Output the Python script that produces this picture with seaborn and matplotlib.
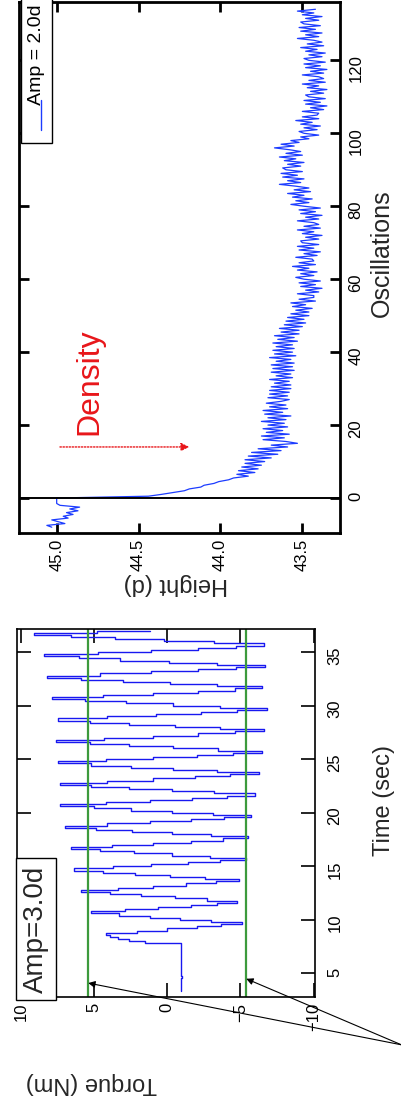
import numpy as np
import matplotlib
matplotlib.use('Agg')
import matplotlib.pyplot as plt
import seaborn as sns

sns.set_theme(style='white')
plt.rcParams['font.family'] = ['Liberation Sans', 'DejaVu Sans']
NARROW = ['Liberation Sans Narrow', 'Liberation Sans', 'DejaVu Sans']

# ---- right panel (drawn on top): height vs oscillations, sampled every half oscillation
OSC_START = -8.0
OSC_STEP = 0.5
height_before = [45.03, 45.06, 44.95, 44.99, 45.03, 44.93, 44.96, 44.90,
                 44.94, 44.87, 44.92, 44.86, 44.98, 45.00, 45.00, 45.00]
height_settle = [
    45.00,
    44.44, 44.36, 44.29, 44.22, 44.19, 44.12, 44.10, 44.04, 44.01, 43.95,
    43.92, 43.83, 43.90, 43.79, 43.89, 43.77, 43.87, 43.75, 43.85, 43.73,
    43.85, 43.69, 43.83, 43.65, 43.81, 43.63, 43.77, 43.59, 43.69, 43.53,
    43.60, 43.74, 43.61, 43.75, 43.58, 43.72, 43.62, 43.74, 43.59, 43.71,
    43.61, 43.75, 43.60, 43.71, 43.57, 43.73, 43.62, 43.74, 43.59, 43.70,
    43.60, 43.72, 43.63, 43.58, 43.71, 43.59, 43.70, 43.58, 43.70, 43.57,
    43.69, 43.57, 43.67, 43.58, 43.70, 43.56, 43.66, 43.57, 43.69, 43.55,
    43.68, 43.56, 43.69, 43.55, 43.66, 43.57, 43.70, 43.54, 43.67, 43.56,
    43.68, 43.55, 43.66, 43.56, 43.68, 43.53, 43.65, 43.55, 43.67, 43.52,
    43.63, 43.52, 43.64, 43.50, 43.61, 43.48, 43.60, 43.49, 43.59, 43.46,
]
height_late = [
    43.57, 43.46, 43.54, 43.44, 43.56, 43.48, 43.57, 43.42, 43.52, 43.43,
    43.43, 43.53, 43.40, 43.48, 43.38, 43.51, 43.42, 43.52, 43.39, 43.49,
    43.54, 43.43, 43.51, 43.41, 43.53, 43.46, 43.56, 43.42, 43.52, 43.43,
    43.44, 43.54, 43.41, 43.49, 43.39, 43.52, 43.43, 43.53, 43.40, 43.50,
    43.51, 43.40, 43.48, 43.38, 43.50, 43.43, 43.53, 43.39, 43.49, 43.40,
    43.43, 43.53, 43.40, 43.48, 43.38, 43.51, 43.42, 43.52, 43.39, 43.49,
    43.57, 43.46, 43.54, 43.44, 43.56, 43.49, 43.59, 43.45, 43.55, 43.46,
    43.54, 43.64, 43.51, 43.59, 43.49, 43.62, 43.53, 43.63, 43.50, 43.60,
    43.62, 43.51, 43.59, 43.49, 43.61, 43.54, 43.64, 43.50, 43.60, 43.51,
    43.58, 43.67, 43.55, 43.63, 43.52, 43.57, 43.46, 43.51, 43.40, 43.49,
    43.52, 43.41, 43.49, 43.39, 43.51, 43.44, 43.54, 43.40, 43.50, 43.41,
    43.40, 43.50, 43.37, 43.45, 43.35, 43.48, 43.39, 43.49, 43.36, 43.46,
    43.48, 43.37, 43.45, 43.35, 43.47, 43.40, 43.50, 43.36, 43.46, 43.37,
    43.40, 43.50, 43.37, 43.45, 43.35, 43.48, 43.39, 43.49, 43.36, 43.46,
    43.49, 43.38, 43.46, 43.36, 43.48, 43.41, 43.51, 43.37, 43.47, 43.38,
    43.43, 43.53, 43.40, 43.48, 43.38, 43.51, 43.42, 43.52, 43.39, 43.49,
    43.51, 43.40, 43.48, 43.38, 43.50, 43.43, 43.53, 43.42,
]
height_ticks = [45.0, 44.5, 44.0, 43.5]
osc_ticks = [0, 20, 40, 60, 80, 100, 120]

# ---- left panel (drawn at the bottom): torque vs time, sample-and-hold every 0.2 s
T_START = 3.4
SAMPLE_DT = 0.2
torque_rest = [-0.95, -0.92, -0.97, -0.93, -0.96, -0.94, -0.98, -0.93, -0.95, -0.97, -0.92,
               -0.96, -0.94, -0.97, -0.93, -0.95, -0.96, -0.92, -0.95, -0.97, -0.94, -0.95]
torque_start = [1.5, 2.6, 3.4, 3.9]
torque_cycles = [
    4.2, 2.1, 0.0, -2.0, -3.7, -5.1, -3.0, -0.9, 1.2, 3.3,
    5.2, 2.9, 0.6, -1.6, -3.4, -4.8, -2.7, -0.5, 1.8, 3.9,
    5.9, 3.4, 1.0, -1.3, -3.3, -4.9, -2.6, -0.2, 2.2, 4.4,
    6.4, 3.7, 1.1, -1.4, -3.6, -5.4, -2.9, -0.3, 2.3, 4.6,
    6.6, 3.8, 1.0, -1.6, -3.8, -5.5, -3.0, -0.3, 2.4, 4.9,
    7.0, 4.1, 1.2, -1.6, -3.9, -5.75, -3.1, -0.3, 2.5, 5.0,
    7.3, 4.2, 1.2, -1.7, -4.1, -6.0, -3.2, -0.3, 2.6, 5.2,
    7.3, 4.1, 1.0, -1.9, -4.3, -6.3, -3.4, -0.4, 2.5, 5.2,
    7.5, 4.2, 1.0, -2.0, -4.5, -6.5, -3.5, -0.4, 2.6, 5.3,
    7.6, 4.3, 1.0, -2.1, -4.6, -6.6, -3.6, -0.5, 2.6, 5.3,
    7.5, 4.1, 0.8, -2.3, -4.8, -6.8, -3.6, -0.4, 2.8, 5.6,
    7.9, 4.4, 1.0, -2.1, -4.6, -6.5, -3.4, -0.2, 3.0, 5.9,
    8.2, 4.6, 1.1, -2.1, -4.7, -6.7, -3.4, -0.1, 3.2, 6.0,
    8.4, 4.7, 1.1, -2.1, -4.7, -6.6, -3.2, 0.2, 3.6, 6.6,
    9.1, 4.8, 1.2,
]
limit_levels = [5.4, -5.4]
arrow_targets_time = [4.1, 4.5]
torque_ticks = [10, 5, 0, -5, -10]
time_ticks = [5, 10, 15, 20, 25, 30, 35]

HEIGHT_BLUE = '#1c3cff'
TORQUE_BLUE = '#1818f0'
GREEN = '#3c9a3c'


def style_box(ax, lw, tick_len, tick_w, size, family):
    for s in ax.spines.values():
        s.set_visible(True)
        s.set_color('black')
        s.set_linewidth(lw)
    ax.tick_params(axis='both', direction='in', length=tick_len, width=tick_w,
                   top=True, bottom=True, left=True, right=True,
                   labelleft=False, labelright=True, labelbottom=True,
                   labelsize=size, colors='black')
    ax.tick_params(axis='x', labelrotation=90, pad=4)
    ax.tick_params(axis='y', labelrotation=90, pad=6)
    for lbl in ax.get_xticklabels() + ax.get_yticklabels():
        lbl.set_family(family)
    ax.grid(False)
    ax.set_facecolor('white')


fig = plt.figure(figsize=(4.02, 11.02), dpi=100)
fig.patch.set_facecolor('white')

# ---------------- height / oscillations ----------------
ax_h = fig.add_axes([0.0473, 0.5163, 0.7985, 0.4819])
height = np.array(height_before + height_settle + height_late)
osc = OSC_START + OSC_STEP * np.arange(len(height))
sns.lineplot(x=height, y=osc, sort=False, estimator=None, ax=ax_h,
             color=HEIGHT_BLUE, lw=0.9)
ax_h.axhline(0, color='black', lw=1.4)
ax_h.set_xlim(45.23, 43.27)
ax_h.set_ylim(-9.6, 136)
ax_h.set_xticks(height_ticks)
ax_h.set_xticklabels([f'{v:.1f}' for v in height_ticks])
ax_h.set_yticks(osc_ticks)
style_box(ax_h, 2.0, 7, 2.0, 12, NARROW)

ax_h.set_xlabel('Height (d)', rotation=180, fontsize=17, family=NARROW)
ax_h.xaxis.set_label_coords(0.49, -0.075)
ax_h.yaxis.set_label_position('right')
ax_h.set_ylabel('Oscillations', rotation=90, fontsize=18, family=NARROW)
ax_h.yaxis.set_label_coords(1.093, 0.527)

# legend drawn as rotated box
ax_h.text(0.028, 0.995, '      Amp = 2.0d', transform=ax_h.transAxes, rotation=90,
          ha='left', va='top', fontsize=14, family=NARROW, color='black', zorder=4,
          bbox=dict(boxstyle='square,pad=0.35', fc='white', ec='black', lw=1))
ax_h.plot([0.068, 0.068], [0.759, 0.815], transform=ax_h.transAxes,
          color=HEIGHT_BLUE, lw=1.0, zorder=5)

ax_h.text(44.80, 32, 'Density', rotation=90, color='#e8161a', fontsize=23,
          family=NARROW, ha='center', va='center')
ax_h.annotate('', xy=(44.19, 14), xytext=(44.98, 14),
              arrowprops=dict(arrowstyle='-|>', color='#e8161a', lw=1.0,
                              linestyle=(0, (1, 1.2)), mutation_scale=12,
                              shrinkA=0, shrinkB=0))

# ---------------- torque / time ----------------
ax_t = fig.add_axes([0.0423, 0.0953, 0.7413, 0.3339])
torque = np.array(torque_rest + torque_start + torque_cycles)
time = T_START + SAMPLE_DT * np.arange(len(torque))
stair_time = np.repeat(time, 2)[1:]
stair_torque = np.repeat(torque, 2)[:-1]
sns.lineplot(x=stair_torque, y=stair_time, sort=False, estimator=None, ax=ax_t,
             color=TORQUE_BLUE, lw=1.0)
for lvl in limit_levels:
    ax_t.axvline(lvl, color=GREEN, lw=1.6)
ax_t.set_xlim(10.27, -10.1)
ax_t.set_ylim(2.8, 37.15)
ax_t.set_xticks(torque_ticks)
ax_t.set_yticks(time_ticks)
style_box(ax_t, 1.2, 10, 1.2, 12, ['Liberation Sans', 'DejaVu Sans'])
ax_t.tick_params(axis='y', pad=9)

ax_t.set_xlabel('Torque (Nm)', rotation=180, fontsize=17)
ax_t.xaxis.set_label_coords(0.25, -0.205)
ax_t.yaxis.set_label_position('right')
ax_t.set_ylabel('Time (sec)', rotation=90, fontsize=17)
ax_t.yaxis.set_label_coords(1.195, 0.535)

ax_t.text(0.02, 0.012, 'Amp=3.0d', transform=ax_t.transAxes, rotation=90,
          ha='left', va='bottom', fontsize=20,
          bbox=dict(boxstyle='square,pad=0.25', fc='white', ec='black', lw=1))

for lvl, tt in zip(limit_levels, arrow_targets_time):
    ax_t.annotate('', xy=(lvl, tt), xycoords='data',
                  xytext=(1.29, -0.13), textcoords='axes fraction',
                  annotation_clip=False,
                  arrowprops=dict(arrowstyle='-|>', color='black', lw=0.8,
                                  mutation_scale=10, shrinkA=0, shrinkB=0))

fig.savefig('out.png', dpi=100, facecolor='white')
